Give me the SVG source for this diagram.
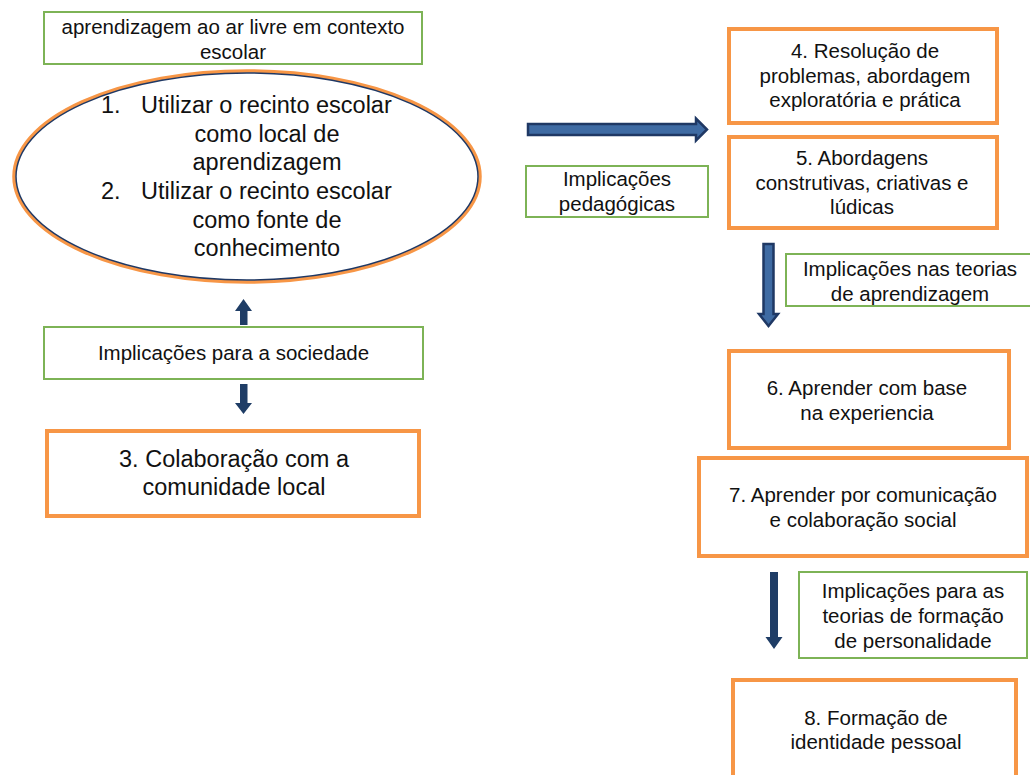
<svg xmlns="http://www.w3.org/2000/svg" width="1030" height="775" viewBox="0 0 1030 775">
  <style>
    text { font-family: "Liberation Sans", Arial, sans-serif; fill: #111; }
    .s { font-size: 20.5px; }
    .l { font-size: 23.5px; }
    .c { text-anchor: middle; }
    .green { fill: #fff; stroke: #7DB356; stroke-width: 2; }
    .orange { fill: #fff; stroke: #F79646; stroke-width: 4; }
    .arrow { fill: #1F3D66; }
    .arrow2 { fill: #3F6BA3; stroke: #1F3864; stroke-width: 2.5; stroke-linejoin: miter; }
  </style>
  <rect width="1030" height="775" fill="#fff"/>

  <!-- connectors -->
  <g id="connectors">
    <!-- up arrow to the ellipse -->
    <path class="arrow" d="M240,325 L240,311 L235,311 L243.5,299 L252,311 L247.5,311 L247.5,325 Z"/>
    <!-- down arrow to box 3 -->
    <path class="arrow" d="M240,384 L247.5,384 L247.5,403 L252,403 L243.5,414 L235,403 L240,403 Z"/>
    <!-- right arrow towards box 4 -->
    <path class="arrow2" d="M528,124 L696,124 L696,118.5 L707,129.5 L696,140.5 L696,135 L528,135 Z"/>
    <!-- down arrow from box 5 -->
    <path class="arrow2" d="M763.5,244 L773.5,244 L773.5,314 L778,314 L768.5,326 L759,314 L763.5,314 Z"/>
    <!-- down arrow from box 7 -->
    <path class="arrow" d="M770,572 L778,572 L778,637 L782.5,637 L774,649 L765.5,637 L770,637 Z"/>
  </g>

  <g id="n-title">
    <rect class="green" x="44" y="12" width="378" height="52"/>
    <text class="s c" x="233" y="34">aprendizagem ao ar livre em contexto</text>
    <text class="s c" x="233" y="59">escolar</text>
  </g>

  <g id="n-ellipse">
    <ellipse cx="247" cy="176.5" rx="233" ry="105.5" fill="#fff" stroke="#F79646" stroke-width="3.5"/>
    <ellipse cx="247" cy="176.5" rx="231" ry="103.5" fill="none" stroke="#1F3864" stroke-width="1.5"/>
    <text class="l" x="101" y="113">1.</text>
    <text class="l" x="141" y="113">Utilizar o recinto escolar</text>
    <text class="l c" x="267" y="142">como local de</text>
    <text class="l c" x="267" y="170">aprendizagem</text>
    <text class="l" x="101" y="199">2.</text>
    <text class="l" x="141" y="199">Utilizar o recinto escolar</text>
    <text class="l c" x="267" y="228">como fonte de</text>
    <text class="l c" x="267" y="256">conhecimento</text>
  </g>

  <g id="n-sociedade">
    <rect class="green" x="44" y="327" width="379" height="52"/>
    <text class="s c" x="233.5" y="360">Implicações para a sociedade</text>
  </g>

  <g id="n-3">
    <rect class="orange" x="47" y="431" width="372" height="85"/>
    <text class="l c" x="234" y="467">3. Colaboração com a</text>
    <text class="l c" x="234" y="495">comunidade local</text>
  </g>

  <g id="n-pedagogicas">
    <rect class="green" x="526" y="166" width="182" height="51"/>
    <text class="s c" x="617" y="186">Implicações</text>
    <text class="s c" x="617" y="211">pedagógicas</text>
  </g>

  <g id="n-4">
    <rect class="orange" x="729" y="29" width="268" height="94"/>
    <text class="s c" x="865" y="58">4. Resolução de</text>
    <text class="s c" x="865" y="83">problemas, abordagem</text>
    <text class="s c" x="865" y="107">exploratória e prática</text>
  </g>

  <g id="n-5">
    <rect class="orange" x="729" y="137" width="268" height="91"/>
    <text class="s c" x="862" y="165">5. Abordagens</text>
    <text class="s c" x="862" y="190">construtivas, criativas e</text>
    <text class="s c" x="862" y="214">lúdicas</text>
  </g>

  <g id="n-aprendizagem">
    <rect class="green" x="786" y="254" width="250" height="52"/>
    <text class="s c" x="910" y="276">Implicações nas teorias</text>
    <text class="s c" x="910" y="301">de aprendizagem</text>
  </g>

  <g id="n-6">
    <rect class="orange" x="729" y="351" width="280" height="97"/>
    <text class="s c" x="867" y="395">6. Aprender com base</text>
    <text class="s c" x="867" y="420">na experiencia</text>
  </g>

  <g id="n-7">
    <rect class="orange" x="699" y="458" width="328" height="98"/>
    <text class="s c" x="863" y="502">7. Aprender por comunicação</text>
    <text class="s c" x="863" y="527">e colaboração social</text>
  </g>

  <g id="n-personalidade">
    <rect class="green" x="799" y="572" width="228" height="86"/>
    <text class="s c" x="913" y="598">Implicações para as</text>
    <text class="s c" x="913" y="623">teorias de formação</text>
    <text class="s c" x="913" y="648">de personalidade</text>
  </g>

  <g id="n-8">
    <rect class="orange" x="733" y="680" width="283" height="110"/>
    <text class="s c" x="876" y="725">8. Formação de</text>
    <text class="s c" x="876" y="749">identidade pessoal</text>
  </g>
</svg>
